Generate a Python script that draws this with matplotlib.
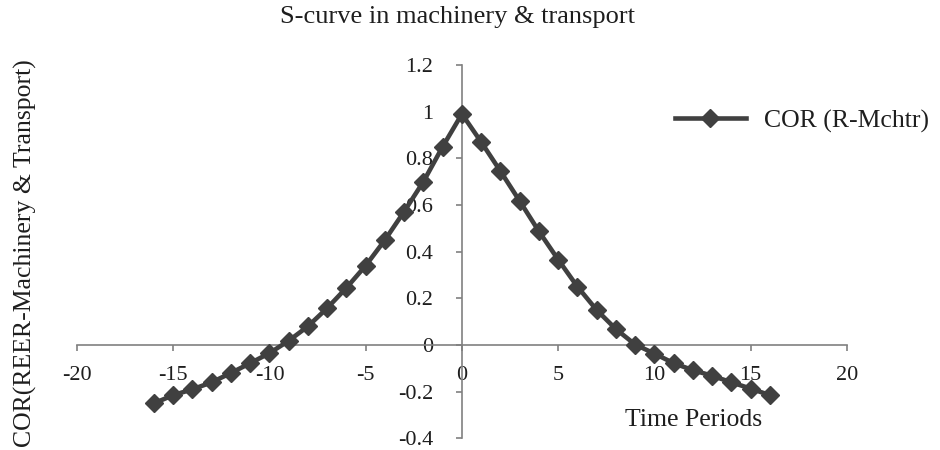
import numpy as np
import matplotlib.pyplot as plt

plt.rcParams['font.family'] = ['Liberation Serif', 'DejaVu Serif']
plt.rcParams['axes.unicode_minus'] = False

periods = list(range(-16, 17))
cor = [-0.25, -0.215, -0.19, -0.16, -0.12, -0.078, -0.035, 0.018, 0.08, 0.158,
       0.245, 0.34, 0.45, 0.572, 0.70, 0.85, 0.99, 0.87, 0.745, 0.617,
       0.487, 0.366, 0.25, 0.15, 0.068, 0.002, -0.037, -0.078, -0.108, -0.132,
       -0.16, -0.187, -0.215]
xticks = [-20, -15, -10, -5, 0, 5, 10, 15, 20]
xtick_labels = ["-20", "-15", "-10", "-5", "0", "5", "10", "15", "20"]
yticks = [-0.4, -0.2, 0, 0.2, 0.4, 0.6, 0.8, 1, 1.2]
ytick_labels = ["-0.4", "-0.2", "0", "0.2", "0.4", "0.6", "0.8", "1", "1.2"]

col = "#404040"
txt = "#1e1e1e"
fig = plt.figure(figsize=(9.4, 4.5), dpi=100)
ax = fig.add_axes([0.0819, 0.026, 0.819, 0.8296])
ax.plot(periods, cor, color=col, lw=3.3, marker="D", ms=9, mec=col, mfc=col,
        label="COR (R-Mchtr)", zorder=3)

ax.set_xlim(-20, 20)
ax.set_ylim(-0.4, 1.2)
ax.spines["left"].set_position(("data", 0))
ax.spines["bottom"].set_position(("data", 0))
ax.spines["right"].set_visible(False)
ax.spines["top"].set_visible(False)
for s in ["left", "bottom"]:
    ax.spines[s].set_color("#808080")
    ax.spines[s].set_linewidth(1.2)

ax.set_xticks(xticks)
ax.set_xticklabels(xtick_labels)
ax.set_yticks(yticks)
ax.set_yticklabels(ytick_labels)
ax.tick_params(axis="both", direction="out", length=4.5, width=1.2, color="#808080",
               labelsize=16, labelcolor=txt)
ax.tick_params(axis="x", pad=10.5)
ax.tick_params(axis="y", pad=16)

fig.text(458 / 940, 1 - 17 / 450, "S-curve in machinery & transport", ha="center",
         va="center", fontsize=19, color=txt)
fig.text(25 / 940, 1 - 253 / 450, "COR(REER-Machinery & Transport)", rotation=90,
         ha="center", va="center", fontsize=18.5, color=txt)
fig.text(694 / 940, 1 - 420 / 450, "Time Periods", ha="center", va="center",
         fontsize=18.5, color=txt)

leg = ax.legend(loc="center left", bbox_to_anchor=(675 / 940, 1 - 121 / 450),
                bbox_transform=fig.transFigure, frameon=False, fontsize=18.5,
                borderpad=0, borderaxespad=0, handlelength=2.75, handletextpad=0.7,
                numpoints=1)
for t in leg.get_texts():
    t.set_color(txt)

fig.savefig("out.png", dpi=100)
